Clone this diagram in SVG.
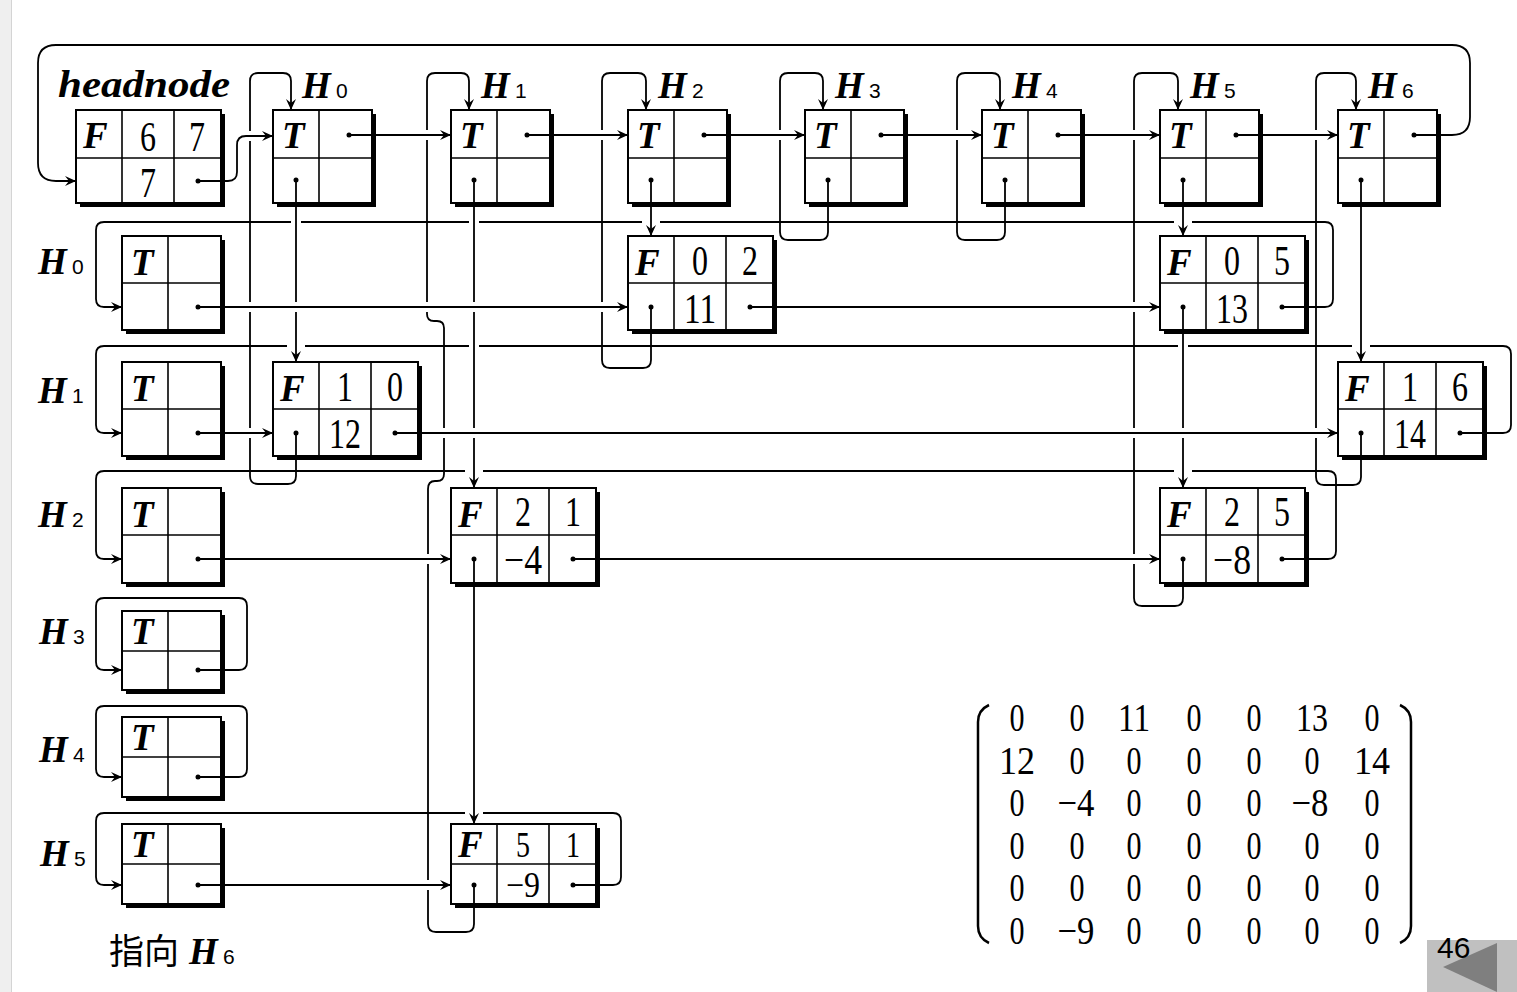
<svg xmlns="http://www.w3.org/2000/svg" width="1517" height="992" viewBox="0 0 1517 992">
<style>
.sh{fill:#000}
.bx{fill:#fff;stroke:#000;stroke-width:2}
.dv{stroke:#000;stroke-width:1.6}
.ln{fill:none;stroke:#000;stroke-width:1.8}
.ar{marker-end:url(#ah)}
.halo{fill:none;stroke:#fff;stroke-width:10}
.halo2{fill:none;stroke:#fff;stroke-width:18}
.dot{fill:#000}
.tf{font-family:"Liberation Serif",serif;font-weight:bold;font-style:italic;font-size:37px}
.nm{font-family:"Liberation Serif",serif;font-size:42px;text-anchor:middle}
.nm2{font-family:"Liberation Serif",serif;font-size:36px;text-anchor:middle}
.hl{font-family:"Liberation Serif",serif;font-weight:bold;font-style:italic;font-size:37px}
.sb{font-family:"Liberation Sans",sans-serif;font-size:21px}
.mx{font-family:"Liberation Serif",serif;font-size:40px;text-anchor:middle}
.pr{fill:none;stroke:#000;stroke-width:2.5}
</style>
<defs>
<marker id="ah" markerUnits="userSpaceOnUse" markerWidth="12" markerHeight="12" refX="0" refY="0" orient="auto" overflow="visible">
<path d="M0,0 L-11,-5 L-7,0 L-11,5 Z" fill="#000"/>
</marker>
</defs>
<rect x="0" y="0" width="1517" height="992" fill="#fff"/>
<rect x="0" y="0" width="11" height="992" fill="#efefef"/>
<line x1="11.5" y1="0" x2="11.5" y2="992" stroke="#d4d4d4" stroke-width="1"/>

<!-- labels -->
<g id="labels">
<text class="hl" x="58" y="97" textLength="172" lengthAdjust="spacingAndGlyphs">headnode</text>
<text class="hl" x="302" y="98">H</text><text class="sb" x="336" y="98">0</text>
<text class="hl" x="481" y="98">H</text><text class="sb" x="515" y="98">1</text>
<text class="hl" x="658" y="98">H</text><text class="sb" x="692" y="98">2</text>
<text class="hl" x="835" y="98">H</text><text class="sb" x="869" y="98">3</text>
<text class="hl" x="1012" y="98">H</text><text class="sb" x="1046" y="98">4</text>
<text class="hl" x="1190" y="98">H</text><text class="sb" x="1224" y="98">5</text>
<text class="hl" x="1368" y="98">H</text><text class="sb" x="1402" y="98">6</text>
<text class="hl" x="38" y="274">H</text><text class="sb" x="72" y="274">0</text>
<text class="hl" x="38" y="403">H</text><text class="sb" x="72" y="403">1</text>
<text class="hl" x="38" y="527">H</text><text class="sb" x="72" y="527">2</text>
<text class="hl" x="39" y="644">H</text><text class="sb" x="73" y="644">3</text>
<text class="hl" x="39" y="762">H</text><text class="sb" x="73" y="762">4</text>
<text class="hl" x="40" y="866">H</text><text class="sb" x="74" y="866">5</text>
<text x="109" y="964" font-family="Noto Sans CJK SC, sans-serif" font-size="35">指向</text>
<text class="hl" x="189" y="964">H</text><text class="sb" x="223" y="964">6</text>
</g>

<!-- headnode -->
<g id="headnode">
<rect class="sh" x="80" y="114" width="145" height="93"/>
<rect class="bx" x="76" y="110" width="145" height="93"/>
<line class="dv" x1="122" y1="110" x2="122" y2="203"/><line class="dv" x1="174" y1="110" x2="174" y2="203"/><line class="dv" x1="76" y1="158" x2="221" y2="158"/>
<text class="tf" x="83" y="148">F</text>
<text class="nm" x="148" y="151" textLength="16" lengthAdjust="spacingAndGlyphs">6</text>
<text class="nm" x="197" y="151" textLength="16" lengthAdjust="spacingAndGlyphs">7</text>
<text class="nm" x="148" y="197" textLength="16" lengthAdjust="spacingAndGlyphs">7</text>
</g>

<!-- top T nodes -->
<g id="top-H0"><rect class="sh" x="277" y="114" width="99" height="93"/><rect class="bx" x="273" y="110" width="99" height="93"/><line class="dv" x1="319" y1="110" x2="319" y2="203"/><line class="dv" x1="273" y1="158" x2="372" y2="158"/><text class="tf" x="282" y="148">T</text></g>
<g id="top-H1"><rect class="sh" x="455" y="114" width="99" height="93"/><rect class="bx" x="451" y="110" width="99" height="93"/><line class="dv" x1="497" y1="110" x2="497" y2="203"/><line class="dv" x1="451" y1="158" x2="550" y2="158"/><text class="tf" x="460" y="148">T</text></g>
<g id="top-H2"><rect class="sh" x="632" y="114" width="99" height="93"/><rect class="bx" x="628" y="110" width="99" height="93"/><line class="dv" x1="674" y1="110" x2="674" y2="203"/><line class="dv" x1="628" y1="158" x2="727" y2="158"/><text class="tf" x="637" y="148">T</text></g>
<g id="top-H3"><rect class="sh" x="809" y="114" width="99" height="93"/><rect class="bx" x="805" y="110" width="99" height="93"/><line class="dv" x1="851" y1="110" x2="851" y2="203"/><line class="dv" x1="805" y1="158" x2="904" y2="158"/><text class="tf" x="814" y="148">T</text></g>
<g id="top-H4"><rect class="sh" x="986" y="114" width="99" height="93"/><rect class="bx" x="982" y="110" width="99" height="93"/><line class="dv" x1="1028" y1="110" x2="1028" y2="203"/><line class="dv" x1="982" y1="158" x2="1081" y2="158"/><text class="tf" x="991" y="148">T</text></g>
<g id="top-H5"><rect class="sh" x="1164" y="114" width="99" height="93"/><rect class="bx" x="1160" y="110" width="99" height="93"/><line class="dv" x1="1206" y1="110" x2="1206" y2="203"/><line class="dv" x1="1160" y1="158" x2="1259" y2="158"/><text class="tf" x="1169" y="148">T</text></g>
<g id="top-H6"><rect class="sh" x="1342" y="114" width="99" height="93"/><rect class="bx" x="1338" y="110" width="99" height="93"/><line class="dv" x1="1384" y1="110" x2="1384" y2="203"/><line class="dv" x1="1338" y1="158" x2="1437" y2="158"/><text class="tf" x="1347" y="148">T</text></g>

<!-- row T nodes -->
<g id="row-H0"><rect class="sh" x="126" y="240" width="99" height="94"/><rect class="bx" x="122" y="236" width="99" height="94"/><line class="dv" x1="168" y1="236" x2="168" y2="330"/><line class="dv" x1="122" y1="283" x2="221" y2="283"/><text class="tf" x="131" y="275">T</text></g>
<g id="row-H1"><rect class="sh" x="126" y="366" width="99" height="94"/><rect class="bx" x="122" y="362" width="99" height="94"/><line class="dv" x1="168" y1="362" x2="168" y2="456"/><line class="dv" x1="122" y1="409" x2="221" y2="409"/><text class="tf" x="131" y="401">T</text></g>
<g id="row-H2"><rect class="sh" x="126" y="492" width="99" height="95"/><rect class="bx" x="122" y="488" width="99" height="95"/><line class="dv" x1="168" y1="488" x2="168" y2="583"/><line class="dv" x1="122" y1="535" x2="221" y2="535"/><text class="tf" x="131" y="527">T</text></g>
<g id="row-H3"><rect class="sh" x="126" y="615" width="99" height="79"/><rect class="bx" x="122" y="611" width="99" height="79"/><line class="dv" x1="168" y1="611" x2="168" y2="690"/><line class="dv" x1="122" y1="651" x2="221" y2="651"/><text class="tf" x="131" y="644">T</text></g>
<g id="row-H4"><rect class="sh" x="126" y="721" width="99" height="80"/><rect class="bx" x="122" y="717" width="99" height="80"/><line class="dv" x1="168" y1="717" x2="168" y2="797"/><line class="dv" x1="122" y1="757" x2="221" y2="757"/><text class="tf" x="131" y="750">T</text></g>
<g id="row-H5"><rect class="sh" x="126" y="828" width="99" height="80"/><rect class="bx" x="122" y="824" width="99" height="80"/><line class="dv" x1="168" y1="824" x2="168" y2="904"/><line class="dv" x1="122" y1="864" x2="221" y2="864"/><text class="tf" x="131" y="857">T</text></g>

<!-- element nodes -->
<g id="e02"><rect class="sh" x="632" y="240" width="145" height="94"/><rect class="bx" x="628" y="236" width="145" height="94"/><line class="dv" x1="674" y1="236" x2="674" y2="330"/><line class="dv" x1="726" y1="236" x2="726" y2="330"/><line class="dv" x1="628" y1="283" x2="773" y2="283"/>
<text class="tf" x="635" y="275">F</text><text class="nm" x="700" y="275" textLength="16" lengthAdjust="spacingAndGlyphs">0</text><text class="nm" x="750" y="275" textLength="16" lengthAdjust="spacingAndGlyphs">2</text><text class="nm" x="700" y="323" textLength="32" lengthAdjust="spacingAndGlyphs">11</text></g>
<g id="e05"><rect class="sh" x="1164" y="240" width="145" height="94"/><rect class="bx" x="1160" y="236" width="145" height="94"/><line class="dv" x1="1206" y1="236" x2="1206" y2="330"/><line class="dv" x1="1258" y1="236" x2="1258" y2="330"/><line class="dv" x1="1160" y1="283" x2="1305" y2="283"/>
<text class="tf" x="1167" y="275">F</text><text class="nm" x="1232" y="275" textLength="16" lengthAdjust="spacingAndGlyphs">0</text><text class="nm" x="1282" y="275" textLength="16" lengthAdjust="spacingAndGlyphs">5</text><text class="nm" x="1232" y="323" textLength="32" lengthAdjust="spacingAndGlyphs">13</text></g>
<g id="e10"><rect class="sh" x="277" y="366" width="145" height="94"/><rect class="bx" x="273" y="362" width="145" height="94"/><line class="dv" x1="319" y1="362" x2="319" y2="456"/><line class="dv" x1="371" y1="362" x2="371" y2="456"/><line class="dv" x1="273" y1="409" x2="418" y2="409"/>
<text class="tf" x="280" y="401">F</text><text class="nm" x="345" y="401" textLength="16" lengthAdjust="spacingAndGlyphs">1</text><text class="nm" x="395" y="401" textLength="16" lengthAdjust="spacingAndGlyphs">0</text><text class="nm" x="345" y="448" textLength="32" lengthAdjust="spacingAndGlyphs">12</text></g>
<g id="e16"><rect class="sh" x="1342" y="366" width="145" height="94"/><rect class="bx" x="1338" y="362" width="145" height="94"/><line class="dv" x1="1384" y1="362" x2="1384" y2="456"/><line class="dv" x1="1436" y1="362" x2="1436" y2="456"/><line class="dv" x1="1338" y1="409" x2="1483" y2="409"/>
<text class="tf" x="1345" y="401">F</text><text class="nm" x="1410" y="401" textLength="16" lengthAdjust="spacingAndGlyphs">1</text><text class="nm" x="1460" y="401" textLength="16" lengthAdjust="spacingAndGlyphs">6</text><text class="nm" x="1410" y="448" textLength="32" lengthAdjust="spacingAndGlyphs">14</text></g>
<g id="e21"><rect class="sh" x="455" y="492" width="145" height="95"/><rect class="bx" x="451" y="488" width="145" height="95"/><line class="dv" x1="497" y1="488" x2="497" y2="583"/><line class="dv" x1="549" y1="488" x2="549" y2="583"/><line class="dv" x1="451" y1="535" x2="596" y2="535"/>
<text class="tf" x="458" y="527">F</text><text class="nm" x="523" y="526" textLength="16" lengthAdjust="spacingAndGlyphs">2</text><text class="nm" x="573" y="526" textLength="16" lengthAdjust="spacingAndGlyphs">1</text><text class="nm" x="523" y="574" textLength="38" lengthAdjust="spacingAndGlyphs">−4</text></g>
<g id="e25"><rect class="sh" x="1164" y="492" width="145" height="95"/><rect class="bx" x="1160" y="488" width="145" height="95"/><line class="dv" x1="1206" y1="488" x2="1206" y2="583"/><line class="dv" x1="1258" y1="488" x2="1258" y2="583"/><line class="dv" x1="1160" y1="535" x2="1305" y2="535"/>
<text class="tf" x="1167" y="527">F</text><text class="nm" x="1232" y="526" textLength="16" lengthAdjust="spacingAndGlyphs">2</text><text class="nm" x="1282" y="526" textLength="16" lengthAdjust="spacingAndGlyphs">5</text><text class="nm" x="1232" y="574" textLength="38" lengthAdjust="spacingAndGlyphs">−8</text></g>
<g id="e51"><rect class="sh" x="455" y="828" width="145" height="80"/><rect class="bx" x="451" y="824" width="145" height="80"/><line class="dv" x1="497" y1="824" x2="497" y2="904"/><line class="dv" x1="549" y1="824" x2="549" y2="904"/><line class="dv" x1="451" y1="864" x2="596" y2="864"/>
<text class="tf" x="458" y="857">F</text><text class="nm2" x="523" y="857" textLength="14" lengthAdjust="spacingAndGlyphs">5</text><text class="nm2" x="573" y="857" textLength="14" lengthAdjust="spacingAndGlyphs">1</text><text class="nm2" x="523" y="897" textLength="34" lengthAdjust="spacingAndGlyphs">−9</text></g>

<!-- connectors -->
<g id="connectors">
<!-- loop-backs: rows -->
<path class="ln ar" d="M1282,307 L1325,307 Q1333,307 1333,299 L1333,230 Q1333,222 1325,222 L104,222 Q96,222 96,230 L96,299 Q96,307 104,307 L122,307"/>
<path class="ln ar" d="M1460,433 L1503,433 Q1511,433 1511,425 L1511,354 Q1511,346 1503,346 L104,346 Q96,346 96,354 L96,425 Q96,433 104,433 L122,433"/>
<path class="ln ar" d="M1282,559 L1328,559 Q1336,559 1336,551 L1336,479 Q1336,471 1328,471 L104,471 Q96,471 96,479 L96,551 Q96,559 104,559 L122,559"/>
<path class="ln ar" d="M198,670 L239,670 Q247,670 247,662 L247,606 Q247,598 239,598 L104,598 Q96,598 96,606 L96,662 Q96,670 104,670 L122,670"/>
<path class="ln ar" d="M198,777 L239,777 Q247,777 247,769 L247,714 Q247,706 239,706 L104,706 Q96,706 96,714 L96,769 Q96,777 104,777 L122,777"/>
<path class="ln ar" d="M573,885 L613,885 Q621,885 621,877 L621,821 Q621,813 613,813 L104,813 Q96,813 96,821 L96,877 Q96,885 104,885 L122,885"/>
<!-- loop-backs: columns -->
<path class="ln ar" d="M296,433 L296,476 Q296,484 288,484 L258,484 Q250,484 250,476 L250,81 Q250,73 258,73 L283,73 Q291,73 291,81 L291,110"/>
<path class="ln ar" d="M474,885 L474,924 Q474,932 466,932 L436,932 Q428,932 428,924 L428,489 Q428,481 435,481 L437,481 Q444,481 444,474 L444,328 Q444,321 437,321 L434,321 Q427,321 427,314 L427,81 Q427,73 435,73 L461,73 Q469,73 469,81 L469,110"/>
<path class="ln ar" d="M651,307 L651,360 Q651,368 643,368 L610,368 Q602,368 602,360 L602,81 Q602,73 610,73 L638,73 Q646,73 646,81 L646,110"/>
<path class="ln ar" d="M828,180 L828,232 Q828,240 820,240 L788,240 Q780,240 780,232 L780,81 Q780,73 788,73 L815,73 Q823,73 823,81 L823,110"/>
<path class="ln ar" d="M1005,180 L1005,232 Q1005,240 997,240 L965,240 Q957,240 957,232 L957,81 Q957,73 965,73 L992,73 Q1000,73 1000,81 L1000,110"/>
<path class="ln ar" d="M1183,559 L1183,598 Q1183,606 1175,606 L1142,606 Q1134,606 1134,598 L1134,81 Q1134,73 1142,73 L1170,73 Q1178,73 1178,81 L1178,110"/>
<path class="ln ar" d="M1361,433 L1361,477 Q1361,485 1353,485 L1324,485 Q1316,485 1316,477 L1316,81 Q1316,73 1324,73 L1348,73 Q1356,73 1356,81 L1356,110"/>
<!-- outer loop H6 -> headnode -->
<path class="ln ar" d="M1414,135 L1452,135 Q1470,135 1470,117 L1470,63 Q1470,45 1452,45 L56,45 Q38,45 38,63 L38,163 Q38,181 56,181 L76,181"/>

<!-- vertical pointers: halos then lines -->
<path class="halo" d="M296,212 L296,343 M474,212 L474,469 M474,592 L474,805 M1183,338 L1183,469 M1361,212 L1361,343"/>
<path class="halo2" d="M296,344 L296,359 M474,470 L474,485 M474,806 L474,821 M651,218 L651,233 M1183,218 L1183,233 M1183,470 L1183,485 M1361,344 L1361,359"/>
<path class="ln ar" d="M296,180 L296,362"/>
<path class="ln ar" d="M474,180 L474,488"/>
<path class="ln ar" d="M474,559 L474,824"/>
<path class="ln ar" d="M651,180 L651,236"/>
<path class="ln ar" d="M1183,180 L1183,236"/>
<path class="ln ar" d="M1183,307 L1183,488"/>
<path class="ln ar" d="M1361,180 L1361,362"/>

<!-- horizontal pointers: halos then lines -->
<path class="halo" d="M378,135 L447,135 M556,135 L624,135 M733,135 L801,135 M910,135 L978,135 M1087,135 L1156,135 M1265,135 L1334,135 M244,136 L268,136 M226,307 L622,307 M780,307 L1154,307 M226,433 L267,433 M426,433 L1332,433 M226,559 L445,559 M602,559 L1154,559 M226,885 L445,885"/>
<path class="ln ar" d="M198,181 L228,181 Q237,181 237,172 L237,145 Q237,136 246,136 L273,136"/>
<path class="ln ar" d="M349,135 L451,135"/>
<path class="ln ar" d="M527,135 L628,135"/>
<path class="ln ar" d="M704,135 L805,135"/>
<path class="ln ar" d="M881,135 L982,135"/>
<path class="ln ar" d="M1058,135 L1160,135"/>
<path class="ln ar" d="M1236,135 L1338,135"/>
<path class="ln ar" d="M198,307 L628,307"/>
<path class="ln ar" d="M750,307 L1160,307"/>
<path class="ln ar" d="M198,433 L273,433"/>
<path class="ln ar" d="M395,433 L1338,433"/>
<path class="ln ar" d="M198,559 L451,559"/>
<path class="ln ar" d="M573,559 L1160,559"/>
<path class="ln ar" d="M198,885 L451,885"/>

<!-- pointer dots -->
<g class="dot">
<circle cx="198" cy="181" r="2.5"/>
<circle cx="349" cy="135" r="2.5"/><circle cx="296" cy="180" r="2.5"/>
<circle cx="527" cy="135" r="2.5"/><circle cx="474" cy="180" r="2.5"/>
<circle cx="704" cy="135" r="2.5"/><circle cx="651" cy="180" r="2.5"/>
<circle cx="881" cy="135" r="2.5"/><circle cx="828" cy="180" r="2.5"/>
<circle cx="1058" cy="135" r="2.5"/><circle cx="1005" cy="180" r="2.5"/>
<circle cx="1236" cy="135" r="2.5"/><circle cx="1183" cy="180" r="2.5"/>
<circle cx="1414" cy="135" r="2.5"/><circle cx="1361" cy="180" r="2.5"/>
<circle cx="198" cy="307" r="2.5"/><circle cx="198" cy="433" r="2.5"/><circle cx="198" cy="559" r="2.5"/>
<circle cx="198" cy="670" r="2.5"/><circle cx="198" cy="777" r="2.5"/><circle cx="198" cy="885" r="2.5"/>
<circle cx="651" cy="307" r="2.5"/><circle cx="750" cy="307" r="2.5"/>
<circle cx="1183" cy="307" r="2.5"/><circle cx="1282" cy="307" r="2.5"/>
<circle cx="296" cy="433" r="2.5"/><circle cx="395" cy="433" r="2.5"/>
<circle cx="1361" cy="433" r="2.5"/><circle cx="1460" cy="433" r="2.5"/>
<circle cx="474" cy="559" r="2.5"/><circle cx="573" cy="559" r="2.5"/>
<circle cx="1183" cy="559" r="2.5"/><circle cx="1282" cy="559" r="2.5"/>
<circle cx="474" cy="885" r="2.5"/><circle cx="573" cy="885" r="2.5"/>
</g>
</g>

<!-- matrix -->
<g id="matrix">
<path class="pr" d="M989,705 Q978,710 978,722 L978,926 Q978,938 989,943"/>
<path class="pr" d="M1400,705 Q1411,710 1411,722 L1411,926 Q1411,938 1400,943"/>
<g class="mx">
<text x="1017" y="731" textLength="15" lengthAdjust="spacingAndGlyphs">0</text><text x="1077" y="731" textLength="15" lengthAdjust="spacingAndGlyphs">0</text><text x="1134" y="731" textLength="32" lengthAdjust="spacingAndGlyphs">11</text><text x="1194" y="731" textLength="15" lengthAdjust="spacingAndGlyphs">0</text><text x="1254" y="731" textLength="15" lengthAdjust="spacingAndGlyphs">0</text><text x="1312" y="731" textLength="32" lengthAdjust="spacingAndGlyphs">13</text><text x="1372" y="731" textLength="15" lengthAdjust="spacingAndGlyphs">0</text>
<text x="1017" y="774" textLength="36" lengthAdjust="spacingAndGlyphs">12</text><text x="1077" y="774" textLength="15" lengthAdjust="spacingAndGlyphs">0</text><text x="1134" y="774" textLength="15" lengthAdjust="spacingAndGlyphs">0</text><text x="1194" y="774" textLength="15" lengthAdjust="spacingAndGlyphs">0</text><text x="1254" y="774" textLength="15" lengthAdjust="spacingAndGlyphs">0</text><text x="1312" y="774" textLength="15" lengthAdjust="spacingAndGlyphs">0</text><text x="1372" y="774" textLength="36" lengthAdjust="spacingAndGlyphs">14</text>
<text x="1017" y="816" textLength="15" lengthAdjust="spacingAndGlyphs">0</text><text x="1076" y="816" textLength="37" lengthAdjust="spacingAndGlyphs">−4</text><text x="1134" y="816" textLength="15" lengthAdjust="spacingAndGlyphs">0</text><text x="1194" y="816" textLength="15" lengthAdjust="spacingAndGlyphs">0</text><text x="1254" y="816" textLength="15" lengthAdjust="spacingAndGlyphs">0</text><text x="1310" y="816" textLength="37" lengthAdjust="spacingAndGlyphs">−8</text><text x="1372" y="816" textLength="15" lengthAdjust="spacingAndGlyphs">0</text>
<text x="1017" y="859" textLength="15" lengthAdjust="spacingAndGlyphs">0</text><text x="1077" y="859" textLength="15" lengthAdjust="spacingAndGlyphs">0</text><text x="1134" y="859" textLength="15" lengthAdjust="spacingAndGlyphs">0</text><text x="1194" y="859" textLength="15" lengthAdjust="spacingAndGlyphs">0</text><text x="1254" y="859" textLength="15" lengthAdjust="spacingAndGlyphs">0</text><text x="1312" y="859" textLength="15" lengthAdjust="spacingAndGlyphs">0</text><text x="1372" y="859" textLength="15" lengthAdjust="spacingAndGlyphs">0</text>
<text x="1017" y="901" textLength="15" lengthAdjust="spacingAndGlyphs">0</text><text x="1077" y="901" textLength="15" lengthAdjust="spacingAndGlyphs">0</text><text x="1134" y="901" textLength="15" lengthAdjust="spacingAndGlyphs">0</text><text x="1194" y="901" textLength="15" lengthAdjust="spacingAndGlyphs">0</text><text x="1254" y="901" textLength="15" lengthAdjust="spacingAndGlyphs">0</text><text x="1312" y="901" textLength="15" lengthAdjust="spacingAndGlyphs">0</text><text x="1372" y="901" textLength="15" lengthAdjust="spacingAndGlyphs">0</text>
<text x="1017" y="944" textLength="15" lengthAdjust="spacingAndGlyphs">0</text><text x="1076" y="944" textLength="37" lengthAdjust="spacingAndGlyphs">−9</text><text x="1134" y="944" textLength="15" lengthAdjust="spacingAndGlyphs">0</text><text x="1194" y="944" textLength="15" lengthAdjust="spacingAndGlyphs">0</text><text x="1254" y="944" textLength="15" lengthAdjust="spacingAndGlyphs">0</text><text x="1312" y="944" textLength="15" lengthAdjust="spacingAndGlyphs">0</text><text x="1372" y="944" textLength="15" lengthAdjust="spacingAndGlyphs">0</text>
</g>
</g>

<!-- page number and nav button -->
<g id="nav">
<rect x="1427" y="940" width="90" height="52" fill="#c0c0c0"/>
<polygon points="1443,967 1497,943 1497,992" fill="#7f7f7f"/>
<text x="1437" y="958" font-family="Liberation Sans, sans-serif" font-size="30">46</text>
</g>
</svg>
